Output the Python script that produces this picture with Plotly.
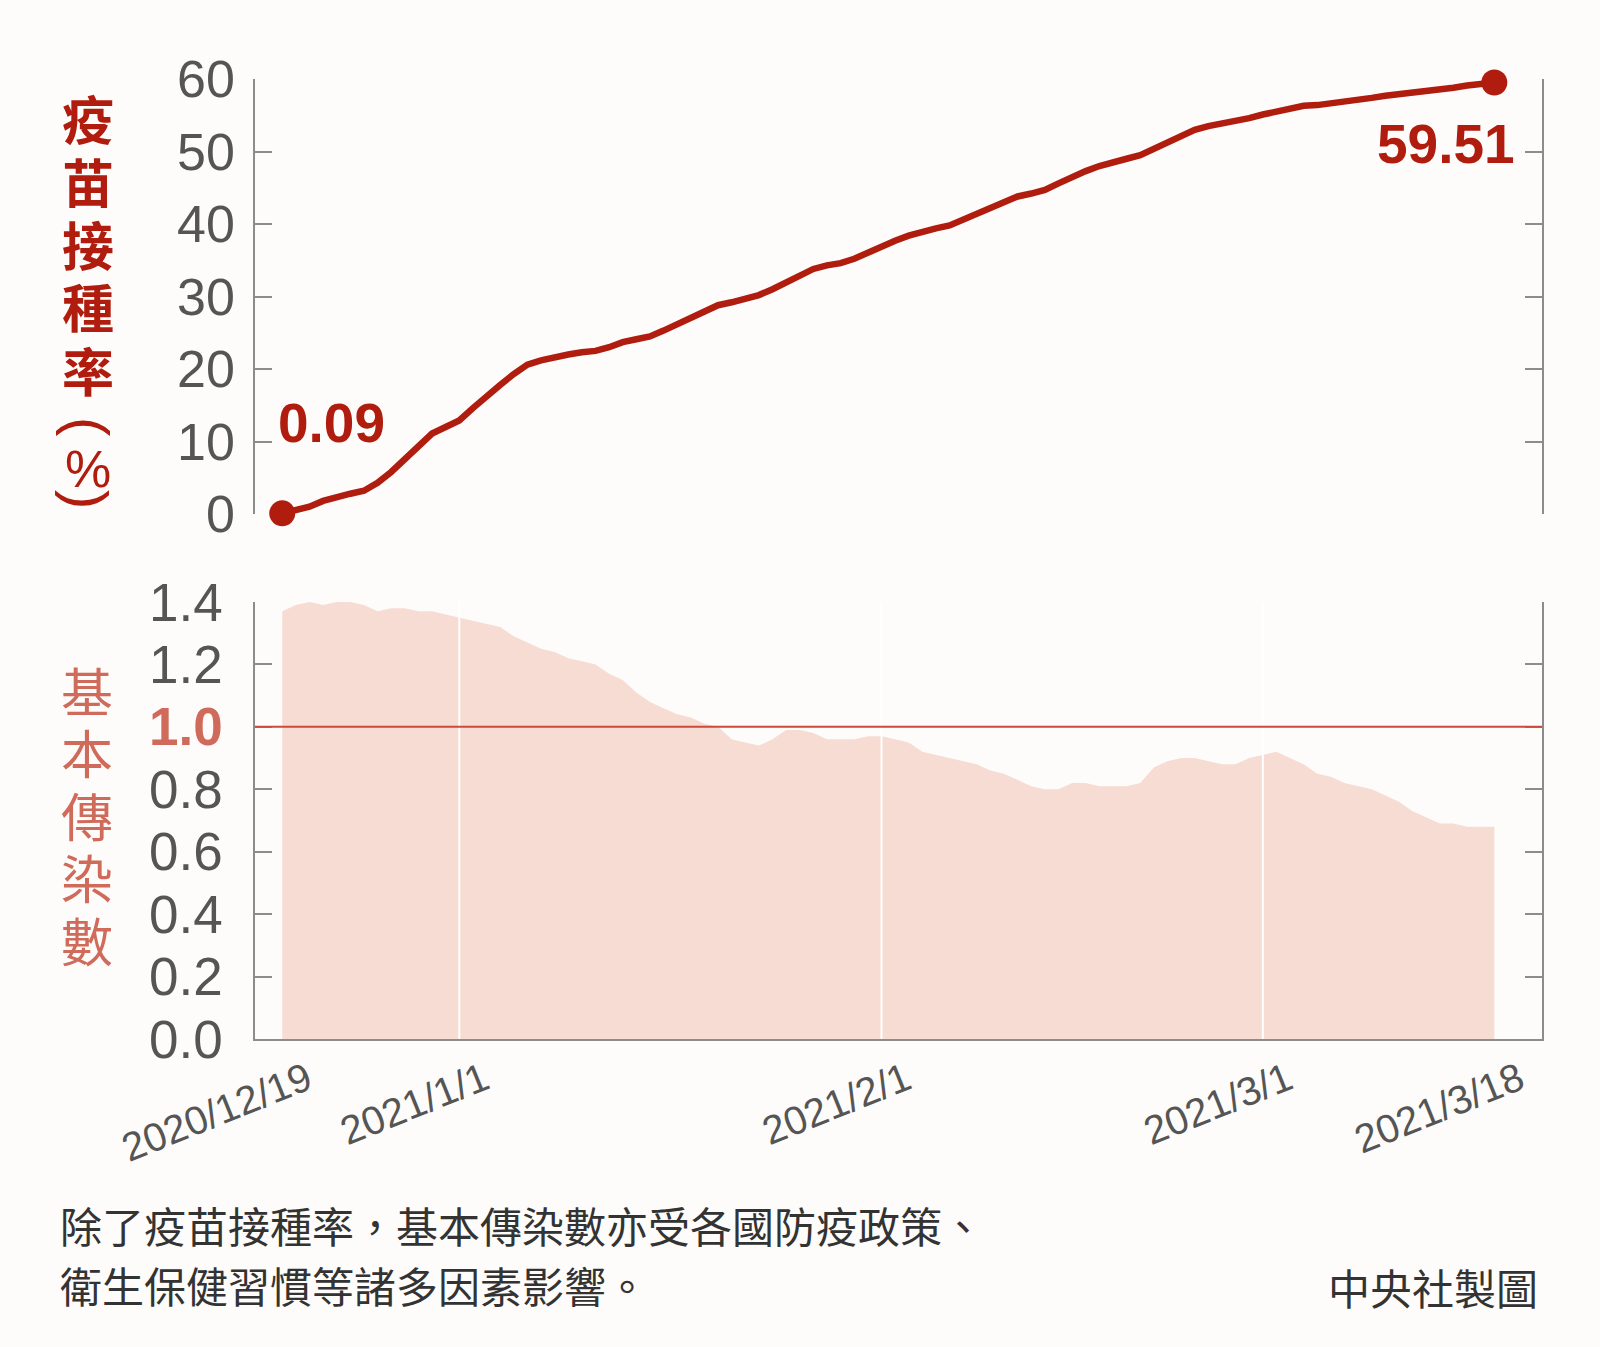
import pandas as pd
import plotly.graph_objects as go

# daily series, 2020/12/19 - 2021/3/18
dates = pd.date_range("2020-12-19", "2021-03-18", freq="D").strftime("%Y-%m-%d").tolist()

vacc_rate = [
    0.09, 0.5, 1.0, 1.8, 2.4, 2.8, 3.2, 4.3, 5.8, 7.5,
    9.3, 11.1, 12.0, 12.9, 14.6, 16.3, 17.8, 19.3, 20.6, 21.2,
    21.7, 22.0, 22.3, 22.5, 23.0, 23.7, 24.1, 24.5, 25.3, 26.2,
    27.0, 27.9, 28.8, 29.2, 29.7, 30.2, 31.0, 31.9, 32.8, 33.8,
    34.3, 34.6, 35.2, 36.1, 37.0, 37.7, 38.4, 39.0, 39.4, 39.8,
    40.6, 41.5, 42.3, 43.2, 43.8, 44.2, 44.7, 45.6, 46.5, 47.3,
    48.0, 48.6, 49.0, 49.5, 50.4, 51.4, 52.3, 53.0, 53.5, 53.8,
    54.1, 54.6, 55.1, 55.5, 56.0, 56.3, 56.4, 56.6, 56.9, 57.2,
    57.4, 57.7, 57.9, 58.1, 58.2, 58.5, 58.8, 59.1, 59.3, 59.51,
]

r_value = [
    1.37, 1.39, 1.40, 1.39, 1.40, 1.40, 1.39, 1.37, 1.38, 1.38,
    1.37, 1.37, 1.36, 1.35, 1.34, 1.33, 1.32, 1.29, 1.27, 1.25,
    1.24, 1.22, 1.21, 1.20, 1.17, 1.15, 1.11, 1.08, 1.06, 1.04,
    1.03, 1.01, 1.00, 0.96, 0.95, 0.94, 0.96, 0.99, 0.99, 0.98,
    0.96, 0.96, 0.96, 0.97, 0.97, 0.96, 0.95, 0.92, 0.91, 0.90,
    0.89, 0.88, 0.86, 0.85, 0.83, 0.81, 0.80, 0.80, 0.82, 0.82,
    0.81, 0.81, 0.81, 0.82, 0.87, 0.89, 0.90, 0.90, 0.89, 0.88,
    0.88, 0.90, 0.91, 0.92, 0.90, 0.88, 0.85, 0.84, 0.82, 0.81,
    0.80, 0.78, 0.76, 0.73, 0.71, 0.69, 0.69, 0.68, 0.68, 0.68,
]

x_tick_dates = ["2020-12-19", "2021-01-01", "2021-02-01", "2021-03-01", "2021-03-18"]
x_tick_text = ["2020/12/19", "2021/1/1", "2021/2/1", "2021/3/1", "2021/3/18"]
grid_dates = ["2021-01-01", "2021-02-01", "2021-03-01"]

vacc_ticks = [0, 10, 20, 30, 40, 50, 60]
r_ticks = [0.0, 0.2, 0.4, 0.6, 0.8, 1.0, 1.2, 1.4]

title_top = "疫苗接種率"
title_unit = ["(", "%", ")"]
title_bottom = "基本傳染數"
caption_1 = "除了疫苗接種率，基本傳染數亦受各國防疫政策、"
caption_2 = "衛生保健習慣等諸多因素影響。"
credit = "中央社製圖"

RED = "#b01c0e"
SALMON = "#d06b5b"
FILL = "#f6dcd3"
GREY = "#555555"
AXIS = "#8c8c8c"
BG = "#fdfcfa"
NUM_FONT = "Liberation Sans, Arial, sans-serif"
NARROW_FONT = "Liberation Sans Narrow, Arial Narrow, Liberation Sans, sans-serif"
CJK_FONT = "Noto Sans CJK TC, Noto Sans CJK SC, sans-serif"

W, H = 1600, 1347


def py(px):
    return 1 - px / H


fig = go.Figure()

fig.add_trace(go.Scatter(
    x=dates, y=vacc_rate, mode="lines",
    line=dict(color=RED, width=6.5), xaxis="x", yaxis="y",
    cliponaxis=False, hoverinfo="skip", showlegend=False,
))
fig.add_trace(go.Scatter(
    x=[dates[0], dates[-1]], y=[vacc_rate[0], vacc_rate[-1]], mode="markers",
    marker=dict(color=RED, size=26), xaxis="x", yaxis="y",
    cliponaxis=False, hoverinfo="skip", showlegend=False,
))
fig.add_trace(go.Scatter(
    x=dates, y=r_value, mode="lines", fill="tozeroy",
    fillcolor=FILL, line=dict(width=0, color=FILL), xaxis="x2", yaxis="y2",
    hoverinfo="skip", showlegend=False,
))

x_range = ["2020-12-17 00:00", "2021-03-21 12:00"]
x_dom = [255 / W, 1542 / W]


def r_label(v):
    if v == 1.0:
        return f"<span style='color:{SALMON}'><b>1.0</b></span>"
    return f"{v:.1f}"


fig.update_layout(
    width=W, height=H,
    margin=dict(l=0, r=0, t=0, b=0, autoexpand=False),
    paper_bgcolor=BG, plot_bgcolor="rgba(0,0,0,0)",
    showlegend=False,
    xaxis=dict(domain=x_dom, range=x_range, type="date", visible=False,
               anchor="y", automargin=False),
    yaxis=dict(domain=[py(514), py(79)], range=[0, 60], anchor="x", automargin=False,
               tickvals=vacc_ticks, ticktext=[str(v) for v in vacc_ticks],
               ticks="inside", ticklen=17, tickwidth=1.5, tickcolor=AXIS,
               showline=True, linecolor=AXIS, linewidth=1.5, mirror="ticks",
               showgrid=False, zeroline=False, ticklabelstandoff=8,
               tickfont=dict(family=NARROW_FONT, size=52, color=GREY)),
    xaxis2=dict(domain=x_dom, range=x_range, type="date", anchor="y2", automargin=False,
                tickvals=x_tick_dates, ticktext=x_tick_text, tickangle=-22,
                ticks="", showline=True, linecolor=AXIS, linewidth=1.5,
                showgrid=False, zeroline=False, ticklabelshift=25,
                tickfont=dict(family=NUM_FONT, size=40, color=GREY)),
    yaxis2=dict(domain=[py(1039), py(602)], range=[0, 1.4], anchor="x2", automargin=False,
                tickvals=r_ticks, ticktext=[r_label(v) for v in r_ticks],
                ticks="inside", ticklen=17, tickwidth=1.5, tickcolor=AXIS,
                showline=True, linecolor=AXIS, linewidth=1.5, mirror="ticks",
                showgrid=False, zeroline=False, ticklabelstandoff=20,
                tickfont=dict(family=NARROW_FONT, size=53, color=GREY)),
)

# white vertical grid lines drawn over the area
for d in grid_dates:
    fig.add_shape(type="line", xref="x2", yref="y2 domain", x0=d, x1=d, y0=0, y1=1,
                  line=dict(color="white", width=2), layer="above")
# R = 1 threshold
fig.add_shape(type="line", xref="x2 domain", yref="y2", x0=0, x1=1, y0=1.0, y1=1.0,
              line=dict(color="#cc4a3c", width=2), layer="above")

# value labels at both ends of the line
fig.add_annotation(x=dates[0], y=vacc_rate[0], xref="x", yref="y",
                   text="<b>0.09</b>", showarrow=False, xanchor="left", yanchor="bottom",
                   xshift=-6, yshift=57, font=dict(family=NUM_FONT, size=55, color=RED))
fig.add_annotation(x=dates[-1], y=vacc_rate[-1], xref="x", yref="y",
                   text="<b>59.51</b>", showarrow=False, xanchor="right", yanchor="top",
                   xshift=23, yshift=-28, font=dict(family=NUM_FONT, size=55, color=RED))

# stacked vertical axis titles
for i, ch in enumerate(title_top):
    fig.add_annotation(x=88 / W, y=py(117 + 63 * i), xref="paper", yref="paper",
                       text=f"<b>{ch}</b>", showarrow=False,
                       xanchor="center", yanchor="middle",
                       font=dict(family=CJK_FONT, size=52, color=RED))
for ch, ypx in zip(title_unit, [426, 469, 499]):
    fig.add_annotation(x=88 / W, y=py(ypx), xref="paper", yref="paper",
                       text=ch, showarrow=False, textangle=0 if ch == "%" else 90,
                       xanchor="center", yanchor="middle",
                       font=dict(family=NUM_FONT, size=58 if ch != "%" else 52, color=RED))
for i, ch in enumerate(title_bottom):
    fig.add_annotation(x=87 / W, y=py(689 + 62.5 * i), xref="paper", yref="paper",
                       text=ch, showarrow=False,
                       xanchor="center", yanchor="middle",
                       font=dict(family=CJK_FONT, size=52, color=SALMON))

# caption and credit
fig.add_annotation(x=58 / W, y=py(1224), xref="paper", yref="paper", text=caption_1,
                   showarrow=False, xanchor="left", yanchor="middle",
                   font=dict(family=CJK_FONT, size=42, color="#333333"))
fig.add_annotation(x=58 / W, y=py(1284), xref="paper", yref="paper", text=caption_2,
                   showarrow=False, xanchor="left", yanchor="middle",
                   font=dict(family=CJK_FONT, size=42, color="#333333"))
fig.add_annotation(x=1540 / W, y=py(1286), xref="paper", yref="paper", text=credit,
                   showarrow=False, xanchor="right", yanchor="middle",
                   font=dict(family=CJK_FONT, size=42, color="#333333"))

fig.write_html("out.html", config={"displayModeBar": False},
               post_script="document.body.style.margin='0';")
